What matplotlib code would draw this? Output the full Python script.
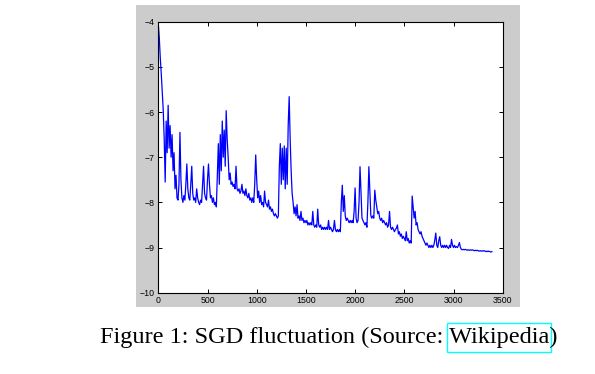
import matplotlib
matplotlib.use("Agg")
import matplotlib.pyplot as plt
import numpy as np
from matplotlib.patches import Rectangle

# loss values, one every 10 iterations
iters = np.arange(0, 3400, 10)
loss = [
    -4.05, -4.35, -4.8, -5.15, -5.55, -5.95, -6.6, -7.55, -6.2, -6.9,
    -5.85, -6.8, -6.3, -7.0, -6.5, -7.3, -6.9, -7.7, -7.4, -7.9,
    -7.95, -7.6, -6.45, -7.5, -7.9, -8.0, -7.85, -7.95, -7.6, -7.15,
    -7.7, -7.9, -7.95, -7.6, -7.2, -7.8, -7.95, -7.9, -8.0, -7.7,
    -7.9, -8.0, -8.05, -7.95, -8.0, -7.6, -7.2, -7.8, -7.9, -7.95,
    -7.5, -7.15, -7.6, -7.9, -7.85, -8.0, -7.9, -8.05, -8.0, -8.1,
    -7.4, -6.7, -7.6, -6.5, -7.3, -6.2, -7.0, -6.4, -7.2, -5.97,
    -6.6, -7.0, -7.5, -7.35, -7.6, -7.55, -7.65, -7.6, -7.7, -7.2,
    -7.7, -7.75, -7.7, -7.8, -7.75, -7.6, -7.8, -7.75, -7.85, -7.7,
    -7.85, -7.9, -7.8, -7.95, -7.9, -8.0, -7.9, -8.0, -7.6, -6.95,
    -7.5, -7.9, -7.75, -8.0, -7.85, -8.05, -8.0, -8.1, -7.75, -8.0,
    -8.05, -8.1, -7.95, -8.15, -8.1, -8.2, -8.15, -8.25, -8.3, -8.25,
    -8.3, -8.35, -8.3, -7.2, -6.7, -7.6, -6.8, -7.5, -6.75, -7.7,
    -6.8, -7.6, -6.3, -5.66, -6.6, -7.3, -7.8, -8.0, -8.25, -8.1,
    -8.3, -8.05, -8.35, -8.3, -8.4, -8.2, -8.4, -8.35, -8.45, -8.4,
    -8.45, -8.4, -8.5, -8.45, -8.5, -8.45, -8.5, -8.2, -8.5, -8.55,
    -8.5, -8.55, -8.15, -8.5, -8.55, -8.5, -8.6, -8.55, -8.6, -8.55,
    -8.6, -8.55, -8.6, -8.4, -8.6, -8.55, -8.6, -8.65, -8.6, -8.4,
    -8.6, -8.65, -8.6, -8.65, -8.6, -8.65, -8.0, -7.62, -8.2, -7.85,
    -8.3, -8.4, -8.35, -8.4, -8.45, -8.4, -8.45, -8.4, -8.45, -8.2,
    -7.68, -8.35, -8.45, -8.4, -8.0, -7.21, -7.8, -8.35, -8.4, -8.45,
    -8.5, -8.45, -8.55, -8.0, -7.21, -7.75, -8.3, -8.35, -8.3, -8.35,
    -7.73, -7.95, -8.1, -8.25, -8.2, -8.35, -8.4, -8.35, -8.45, -8.4,
    -8.45, -8.5, -8.45, -8.55, -8.5, -8.2, -8.55, -8.6, -8.55, -8.6,
    -8.65, -8.6, -8.57, -8.5, -8.7, -8.65, -8.75, -8.7, -8.8, -8.75,
    -8.8, -8.85, -8.65, -8.85, -8.8, -8.9, -8.85, -8.9, -7.86, -8.1,
    -8.35, -8.2, -8.5, -8.45, -8.6, -8.65, -8.7, -8.65, -8.75, -8.8,
    -8.85, -8.9, -8.95, -8.9, -8.95, -9.0, -8.95, -9.0, -8.95, -9.0,
    -8.95, -8.83, -8.68, -8.95, -9.0, -8.85, -8.76, -8.95, -9.0, -8.95,
    -9.0, -8.95, -9.0, -8.95, -9.0, -9.02, -8.95, -9.0, -8.82, -8.95,
    -9.0, -8.95, -9.0, -8.98, -9.0, -8.95, -8.89, -9.0, -9.04, -9.05,
    -9.04, -9.05, -9.04, -9.05, -9.06, -9.05, -9.06, -9.05, -9.06, -9.05,
    -9.06, -9.07, -9.06, -9.07, -9.06, -9.07, -9.08, -9.07, -9.08, -9.07,
    -9.08, -9.07, -9.08, -9.09, -9.08, -9.09, -9.08, -9.09, -9.1, -9.09,
]

xticks = [0, 500, 1000, 1500, 2000, 2500, 3000, 3500]
yticks = [-10, -9, -8, -7, -6, -5, -4]
caption_main = "Figure 1: SGD fluctuation (Source: "
caption_link = "Wikipedia"

W, H = 595, 374
fig = plt.figure(figsize=(W / 100, H / 100), dpi=100)
fig.patch.set_facecolor("white")

# grey matlab figure background, behind the axes
fig.patches.append(Rectangle((136 / W, 1 - 307 / H), (520 - 136) / W, (307 - 5) / H,
                             transform=fig.transFigure, facecolor="#cccccc",
                             edgecolor="none", zorder=-10))

ax = fig.add_axes([158.3 / W, 1 - 292.7 / H, (502.7 - 158.3) / W, (292.7 - 21.7) / H])
ax.set_zorder(5)
ax.set_facecolor("white")
ax.plot(iters, loss, color="#0000ff", lw=0.9)

ax.set_xlim(0, 3500)
ax.set_ylim(-10, -4)
ax.set_xticks(xticks)
ax.set_yticks(yticks)
ax.tick_params(direction="in", length=3, width=0.7, top=True, right=True,
               labelsize=6.3, pad=2.5)
for lab in ax.get_xticklabels() + ax.get_yticklabels():
    lab.set_family("Liberation Sans")
for s in ax.spines.values():
    s.set_linewidth(0.8)

# caption with the boxed link
fs = 17.5
cap_y = 1 - 337 / H
fig.text(100 / W, cap_y, caption_main + caption_link + ")", family="Liberation Serif",
         fontsize=fs, va="center", ha="left")
r = fig.canvas.get_renderer()
full = fig.text(100 / W, cap_y, caption_main + caption_link, family="Liberation Serif",
                fontsize=fs, va="center", ha="left", alpha=0)
link = fig.text(0, cap_y, caption_link, family="Liberation Serif",
                fontsize=fs, va="center", ha="left", alpha=0)
bf = full.get_window_extent(r)
bl = link.get_window_extent(r)
x1 = bf.x1 + 1.5
x0 = bf.x1 - bl.width - 2
fig.patches.append(Rectangle((x0 / W, 1 - 352 / H), (x1 - x0) / W, 29.5 / H,
                             transform=fig.transFigure, facecolor="none",
                             edgecolor="#00ffff", lw=1.0))

fig.savefig("out.png", dpi=100)
